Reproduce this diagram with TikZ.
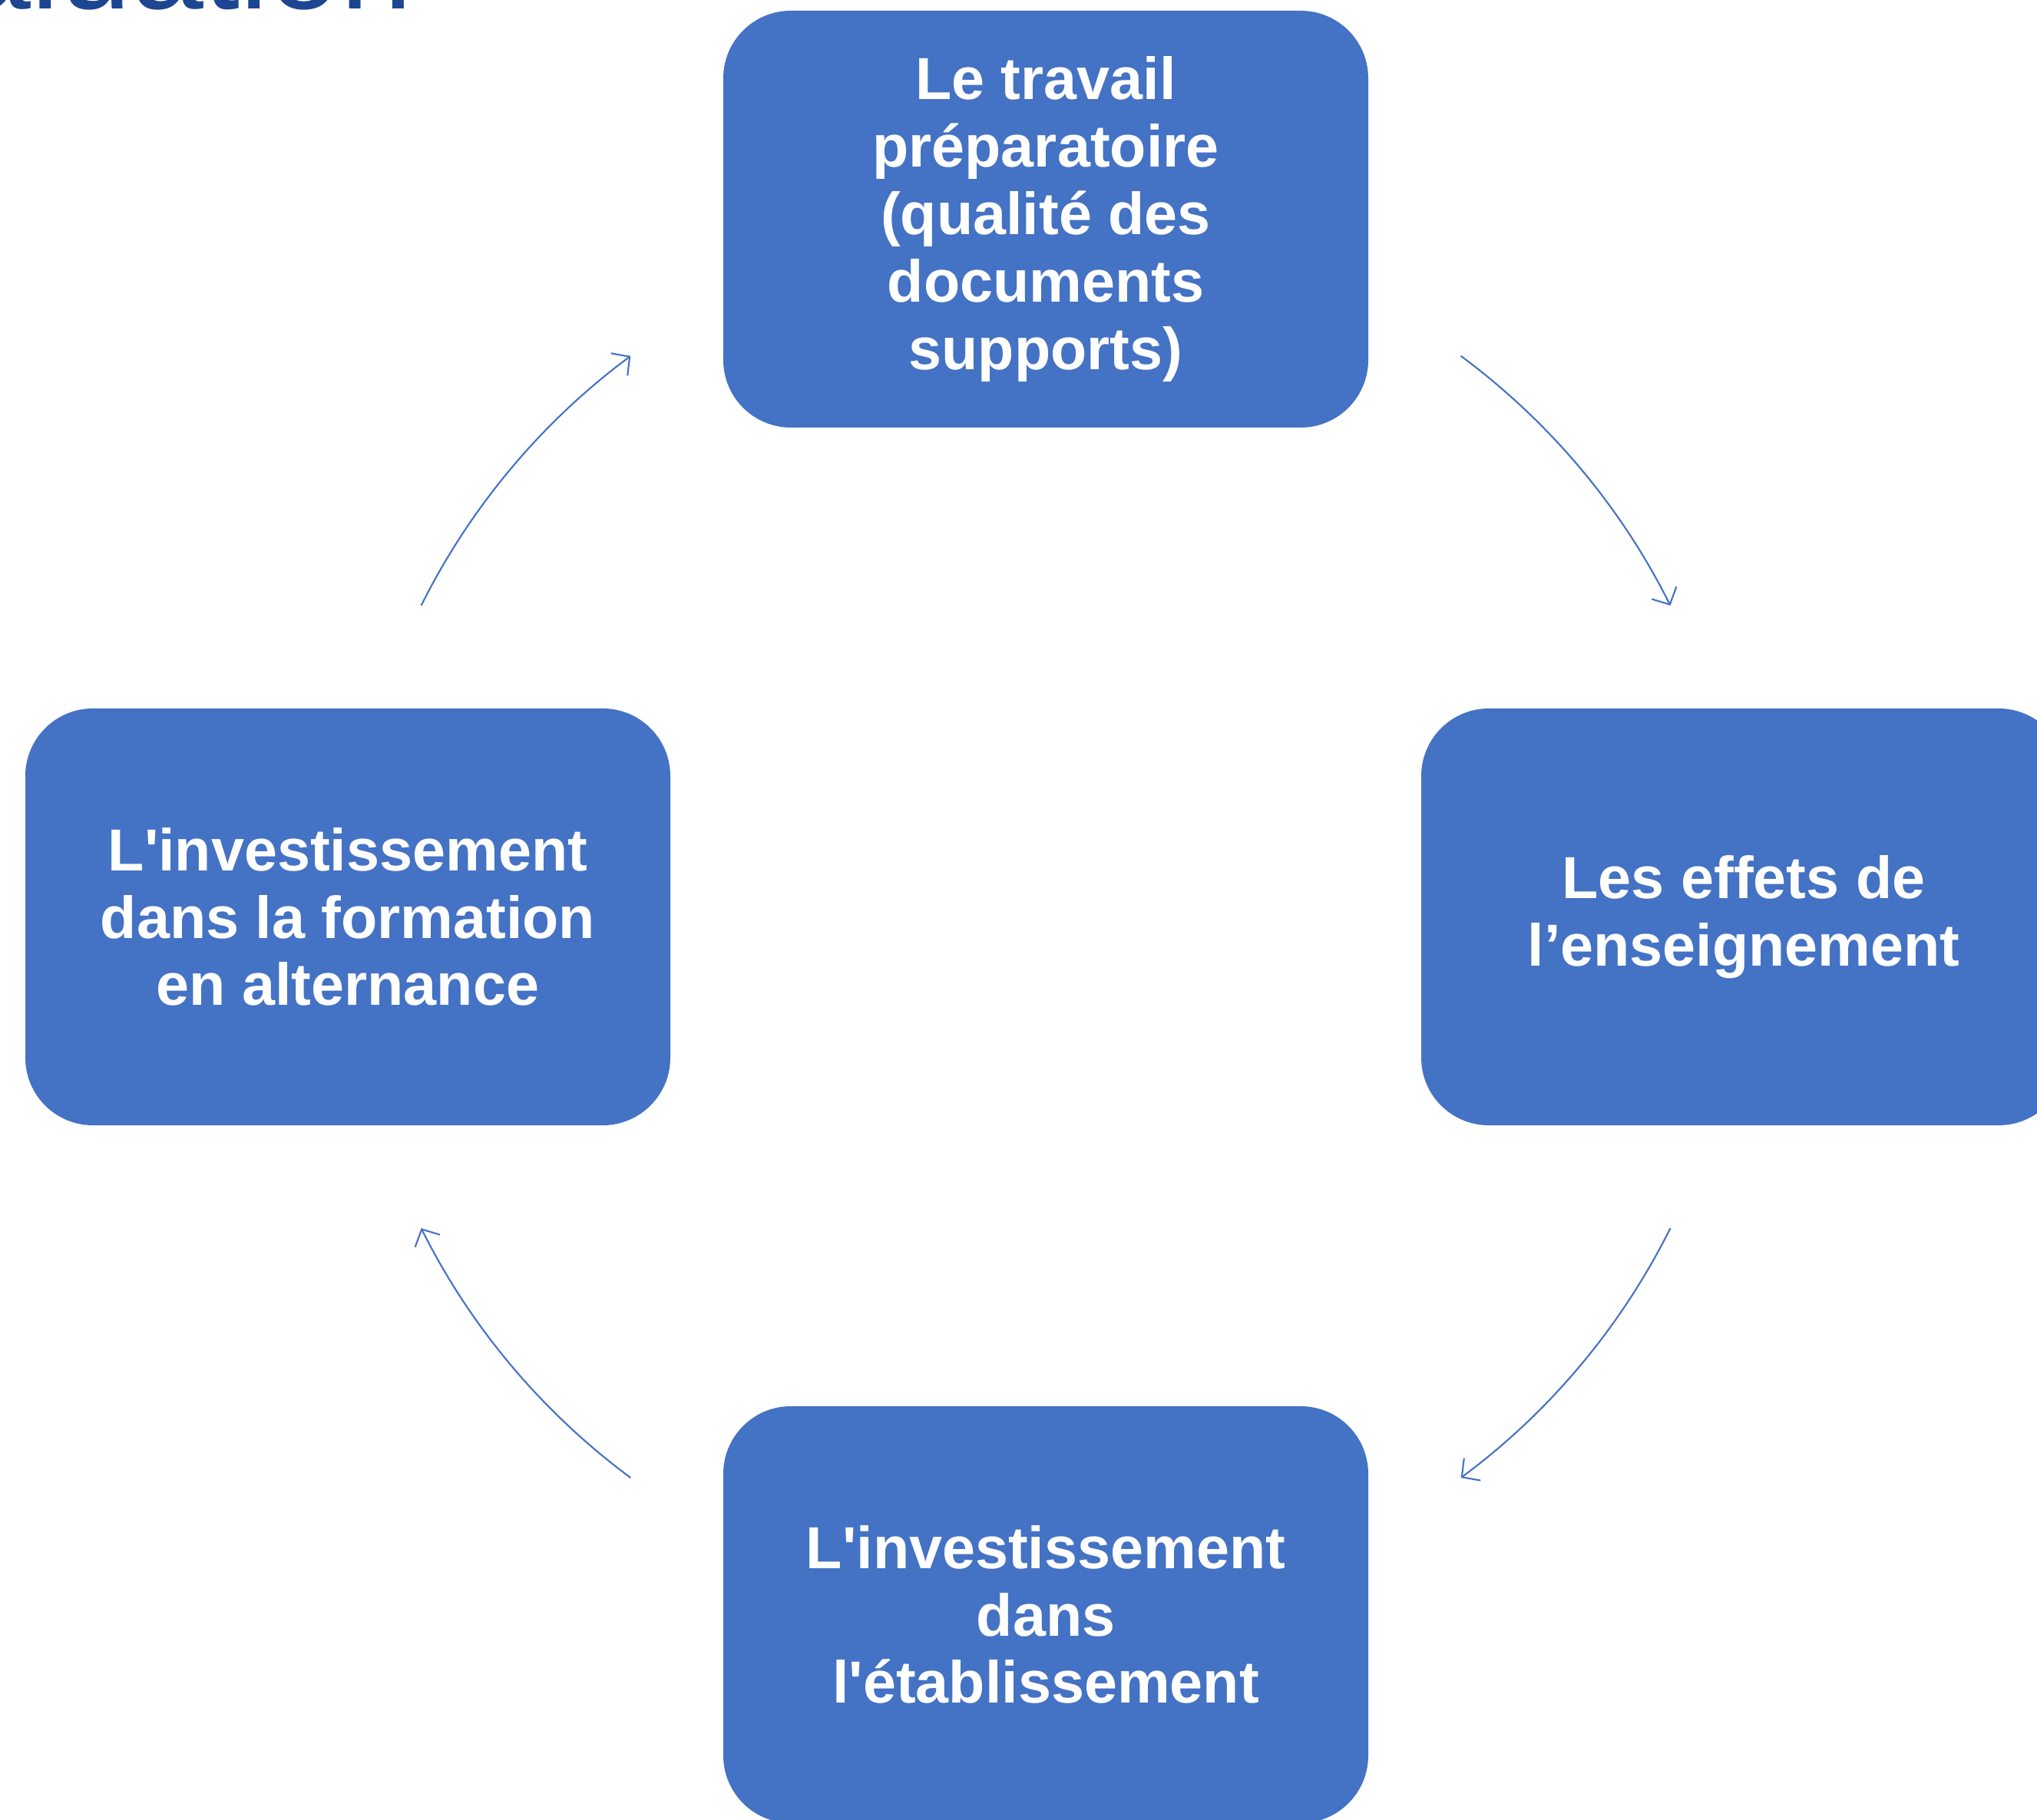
\documentclass[tikz,border=0pt]{standalone}
\usepackage{fontspec}
\setmainfont{Liberation Sans}
\newfontfamily\boxfont{Liberation Sans}
\usetikzlibrary{arrows.meta}
\definecolor{boxblue}{HTML}{4472C4}
\definecolor{titleblue}{HTML}{1E4591}
\tikzset{
  cyclebox/.style={fill=boxblue, draw=none, rounded corners=0.88cm,
    minimum width=8.4cm, minimum height=5.43cm, inner sep=0pt,
    text=white, align=center, font=\boxfont\fontsize{22}{25}\selectfont\bfseries},
  cyclearrow/.style={draw=boxblue, line width=0.6pt,
    -{Straight Barb[length=1.7mm,width=3.6mm]}},
  titletext/.style={text=titleblue, font=\fontsize{48}{48}\selectfont, inner sep=0pt}
}
\begin{document}
\begin{tikzpicture}
\useasboundingbox (0,0) rectangle (26.53,23.71);
\clip (0,0) rectangle (26.53,23.71);

\node[titletext, anchor=base east] (title) at (5.38,23.59) {Évaluation};

\coordinate (C) at (13.62,11.765);

\node[cyclebox] (top) at (13.62,20.855) {Le travail\\préparatoire\\(qualité des\\documents\\supports)};
\node[cyclebox] (right) at (22.71,11.765) {Les effets de\\l’enseignement};
\node[cyclebox] (bottom) at (13.62,2.675) {L'investissement\\dans\\l'établissement};
\node[cyclebox] (left) at (4.53,11.765) {L'investissement\\dans la formation\\en alternance};

\draw[cyclearrow] ([shift={(53.5:9.09)}]C) arc[start angle=53.5, end angle=26.5, radius=9.09];
\draw[cyclearrow] ([shift={(-26.5:9.09)}]C) arc[start angle=-26.5, end angle=-53.5, radius=9.09];
\draw[cyclearrow] ([shift={(-126.5:9.09)}]C) arc[start angle=-126.5, end angle=-153.5, radius=9.09];
\draw[cyclearrow] ([shift={(153.5:9.09)}]C) arc[start angle=153.5, end angle=126.5, radius=9.09];
\end{tikzpicture}
\end{document}
